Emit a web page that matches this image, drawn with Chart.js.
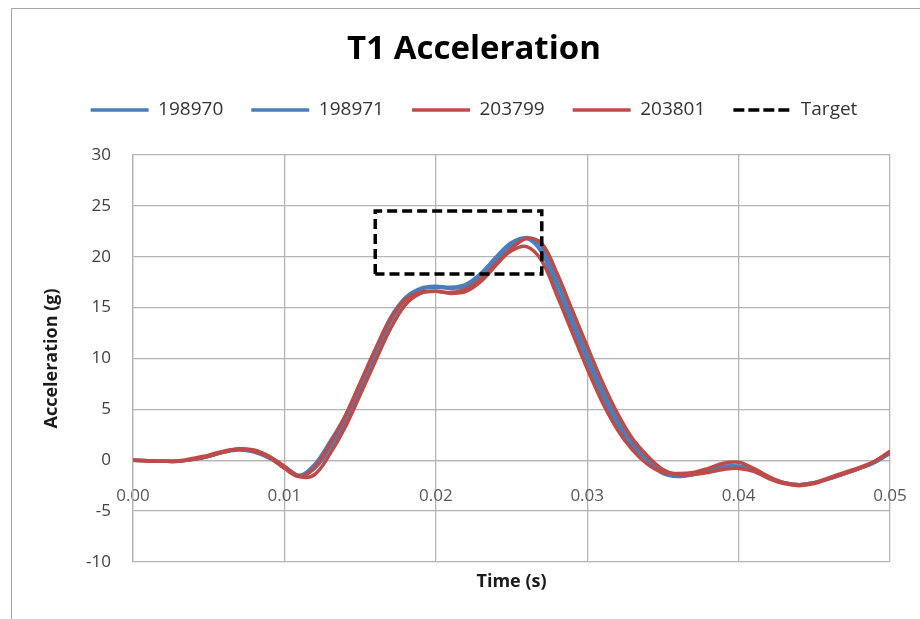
<!DOCTYPE html>
<html>
<head>
<meta charset="utf-8">
<title>T1 Acceleration</title>
<script src="https://cdn.jsdelivr.net/npm/chart.js@4.4.1/dist/chart.umd.min.js"></script>
<style>
  html, body { margin: 0; padding: 0; background: #fff; }
  #wrap { position: relative; width: 920px; height: 619px; overflow: hidden; }
  #marco { position: absolute; left: 11px; top: 8px; width: 1000px; height: 700px; border: 1.5px solid #a6a6a6; pointer-events: none; }
  canvas { position: absolute; left: 0; top: 0; }
</style>
</head>
<body>
<div id="wrap">
  <canvas id="chartT1" width="920" height="619"></canvas>
  <div id="marco"></div>
</div>
<script>
// --- DATOS ---
const tiempos = [0.000, 0.001, 0.002, 0.003, 0.004, 0.005, 0.006, 0.007, 0.008, 0.009,
  0.010, 0.011, 0.012, 0.013, 0.014, 0.015, 0.016, 0.017, 0.018, 0.019,
  0.020, 0.021, 0.022, 0.023, 0.024, 0.025, 0.026, 0.027, 0.028, 0.029,
  0.030, 0.031, 0.032, 0.033, 0.034, 0.035, 0.036, 0.037, 0.038, 0.039,
  0.040, 0.041, 0.042, 0.043, 0.044, 0.045, 0.046, 0.047, 0.048, 0.049, 0.050];

const acel198970 = [0, -0.05, -0.1, -0.1, 0.1, 0.4, 0.8, 1.0, 0.8, 0.2,
  -0.7, -1.5, -0.4, 1.8, 4.3, 7.5, 10.8, 14.0, 16.0, 16.9,
  17.1, 17.0, 17.3, 18.4, 20.0, 21.4, 21.8, 20.4, 16.8, 13.3,
  9.8, 6.4, 3.5, 1.4, 0.0, -1.3, -1.6, -1.4, -1.0, -0.6,
  -0.6, -1.0, -1.7, -2.2, -2.4, -2.2, -1.8, -1.3, -0.8, -0.2, 0.7];

const acel198971 = [0, -0.05, -0.1, -0.1, 0.1, 0.4, 0.8, 1.1, 0.9, 0.3,
  -0.6, -1.5, -0.8, 1.2, 3.8, 7.0, 10.3, 13.6, 15.8, 16.8,
  17.0, 16.9, 17.1, 18.0, 19.6, 21.1, 21.9, 21.0, 17.6, 14.0,
  10.4, 7.0, 4.0, 1.7, 0.2, -1.1, -1.5, -1.4, -1.1, -0.7,
  -0.6, -1.0, -1.7, -2.2, -2.4, -2.2, -1.8, -1.3, -0.8, -0.2, 0.7];

const acel203799 = [0, -0.05, -0.1, -0.05, 0.2, 0.5, 0.9, 1.1, 0.9, 0.3,
  -0.8, -1.6, -0.7, 1.6, 4.3, 7.6, 10.9, 13.9, 15.8, 16.5,
  16.6, 16.5, 16.8, 17.8, 19.3, 20.6, 21.0, 19.6, 16.2, 12.6,
  9.0, 5.7, 3.0, 1.0, -0.4, -1.2, -1.3, -1.2, -0.8, -0.3,
  -0.2, -0.8, -1.6, -2.2, -2.4, -2.2, -1.7, -1.2, -0.7, -0.1, 0.8];

const acel203801 = [0, -0.05, -0.1, -0.1, 0.1, 0.4, 0.8, 1.1, 1.0, 0.4,
  -0.6, -1.6, -1.4, 0.6, 3.2, 6.4, 9.7, 12.9, 15.3, 16.4,
  16.6, 16.4, 16.6, 17.6, 19.2, 20.8, 21.8, 21.3, 18.4, 14.8,
  11.2, 7.7, 4.6, 2.1, 0.4, -0.9, -1.4, -1.4, -1.2, -0.9,
  -0.8, -1.1, -1.8, -2.3, -2.5, -2.3, -1.8, -1.3, -0.8, -0.1, 0.9];

// rectangulo objetivo (tiempo, aceleracion)
const targetX = [0.016, 0.016, 0.027, 0.027, 0.016];
const targetY = [18.3, 24.5, 24.5, 18.3, 18.3];

const yTicks = [-10, -5, 0, 5, 10, 15, 20, 25, 30];
const xTicks = [0.00, 0.01, 0.02, 0.03, 0.04, 0.05];

// --- HELPERS ---
function puntos(xs, ys) {
  return xs.map((x, i) => ({ x: x, y: ys[i] }));
}

const AZUL = '#4a7ebb';
const ROJO = '#be4b48';
const GRID = '#b4b4b4';
const FUENTE = '"Open Sans", "Noto Sans", sans-serif';

function serie(label, data, color, orden) {
  return {
    label: label,
    data: puntos(tiempos, data),
    borderColor: color,
    backgroundColor: color,
    borderWidth: 3.5,
    pointRadius: 0,
    tension: 0.35,
    order: orden
  };
}

// --- PLUGINS ---
// espacio extra bajo la leyenda
const espacioLeyenda = {
  id: 'espacioLeyenda',
  beforeInit(chart) {
    const fitOriginal = chart.legend.fit;
    chart.legend.fit = function fit() {
      fitOriginal.bind(chart.legend)();
      this.height += 25.5;
    };
  }
};

// titulos de ejes (estilo excel)
const titulosEjes = {
  id: 'titulosEjes',
  afterDraw(chart) {
    const { ctx, chartArea } = chart;
    ctx.save();
    ctx.font = 'bold 18px ' + FUENTE;
    ctx.fillStyle = '#1a1a1a';
    ctx.textAlign = 'center';
    ctx.textBaseline = 'middle';
    ctx.fillText('Time (s)', (chartArea.left + chartArea.right) / 2, chartArea.bottom + 20);
    ctx.translate(52, (chartArea.top + chartArea.bottom) / 2);
    ctx.rotate(-Math.PI / 2);
    ctx.fillText('Acceleration (g)', 0, 0);
    ctx.restore();
  }
};

// --- GRAFICO ---
const ctx = document.getElementById('chartT1').getContext('2d');

new Chart(ctx, {
  type: 'line',
  data: {
    datasets: [
      serie('198970', acel198970, AZUL, 4),
      serie('198971', acel198971, AZUL, 3),
      serie('203799', acel203799, ROJO, 2),
      serie('203801', acel203801, ROJO, 1),
      {
        label: 'Target',
        data: puntos(targetX, targetY),
        borderColor: '#000',
        backgroundColor: '#000',
        borderWidth: 3.5,
        borderDash: [10, 5],
        borderJoinStyle: 'miter',
        pointRadius: 0,
        tension: 0,
        order: 0
      }
    ]
  },
  options: {
    responsive: false,
    animation: false,
    devicePixelRatio: 1,
    layout: { padding: { left: 58, right: 30, top: 8, bottom: 57 } },
    plugins: {
      title: {
        display: true,
        text: 'T1 Acceleration',
        color: '#000',
        font: { family: FUENTE, size: 33, weight: 'bold' },
        padding: { top: 22.2, bottom: 2.7 }
      },
      legend: {
        position: 'top',
        labels: {
          color: '#333',
          font: { family: FUENTE, size: 19 },
          boxWidth: 58,
          boxHeight: 0,
          padding: 28,
          sort: (a, b) => a.datasetIndex - b.datasetIndex
        }
      },
      tooltip: { enabled: false }
    },
    scales: {
      x: {
        type: 'linear',
        min: 0,
        max: 0.05,
        position: { y: 0 },
        afterBuildTicks: (scale) => { scale.ticks = xTicks.map(v => ({ value: v })); },
        afterFit: (scale) => { scale.paddingLeft = 0; scale.paddingRight = 0; },
        ticks: {
          color: '#595959',
          font: { family: FUENTE, size: 17 },
          padding: 26,
          callback: (v) => Number(v).toFixed(2)
        },
        grid: { color: GRID, lineWidth: 1.3, drawTicks: false },
        border: { color: GRID, width: 1.3 }
      },
      y: {
        min: -10,
        max: 30,
        afterBuildTicks: (scale) => { scale.ticks = yTicks.map(v => ({ value: v })); },
        afterFit: (scale) => { scale.width = 75; },
        ticks: {
          color: '#404040',
          font: { family: FUENTE, size: 17 },
          padding: 22
        },
        grid: { color: GRID, lineWidth: 1.3, drawTicks: false },
        border: { color: GRID, width: 1.3 }
      }
    }
  },
  plugins: [espacioLeyenda, titulosEjes]
});
</script>
</body>
</html>
